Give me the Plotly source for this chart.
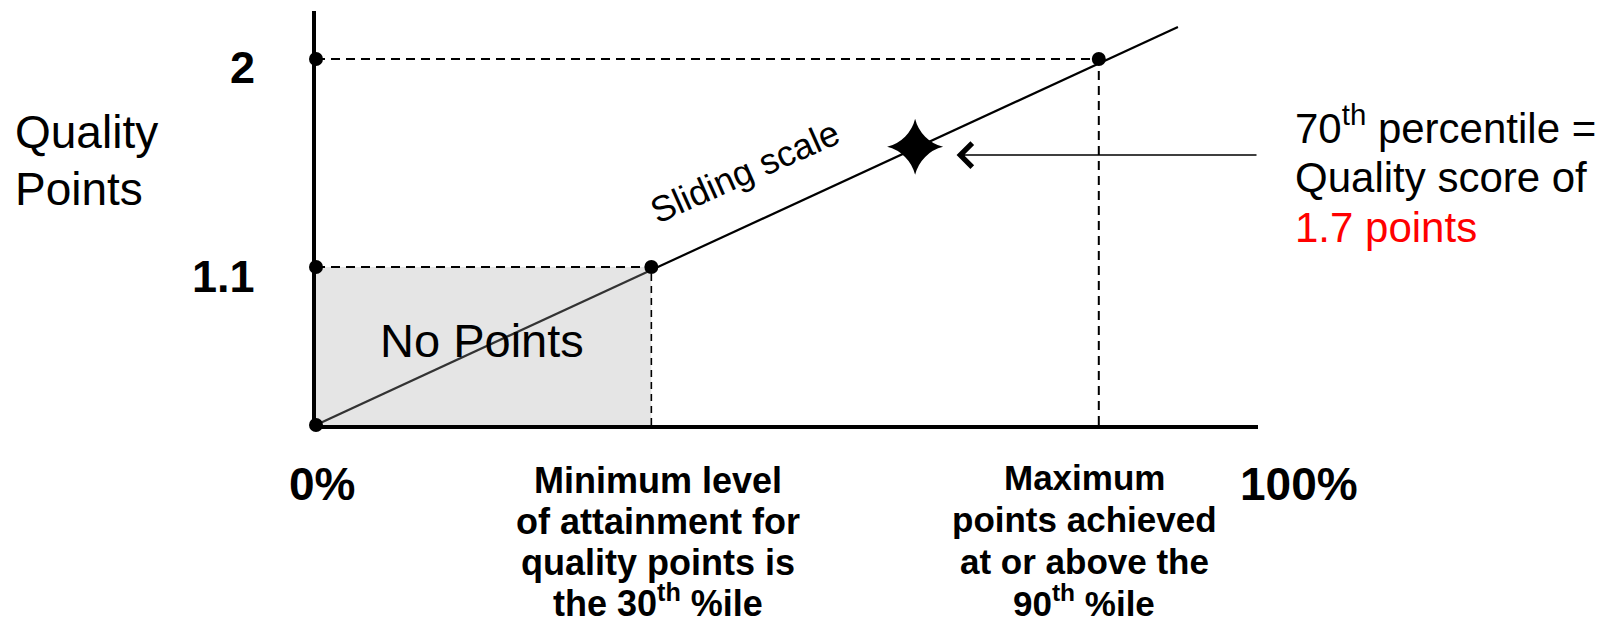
import plotly.graph_objects as go

# ---- data (schematic positions as drawn; x axis = 0%..100% of attainment scale) ----
x_axis_labels = ["0%", "100%"]
y_level_labels = ["2", "1.1"]
y_level_values = [2.0, 0.863]          # where the 2 and 1.1 levels sit on the drawn axis

min_attain_x = 35.6                     # "30th %ile" as drawn
min_attain_y = 0.863                    # 1.1 points as drawn
max_points_x = 83.1                     # "90th %ile" as drawn
max_points_y = 2.0                      # 2 points

line_low_x = [0, 35.6]                  # sliding scale, part inside the no-points box
line_low_y = [0, 0.847]
line_high_x = [35.6, 91.5]              # sliding scale, remainder
line_high_y = [0.847, 2.175]

dot_x = [0, 0, 0, 35.6, 83.1]
dot_y = [0, 0.863, 2.0, 0.863, 2.0]

star_x = [63.6]                         # 70th percentile
star_y = [1.52]

arrow_tip_x = 68.0
arrow_tail_x = 100.0
arrow_y = 1.475

min_text = ["Minimum level", "of attainment for", "quality points is", "the 30<sup>th</sup> %ile"]
max_text = ["Maximum", "points achieved", "at or above the", "90<sup>th</sup> %ile"]
callout_text = ["70<sup>th</sup> percentile =", "Quality score of", "1.7 points"]

# ---- layout geometry (pixels) ----
W, H = 1616, 624
L, R, T, B = 316, 1258, 11, 425
Y_TOP = (B - T) / 183.0
FONT = "Arial, Liberation Sans, sans-serif"


def px_x(px):
    return (px - L) / (R - L)


def px_y(py):
    return (B - py) / (B - T)


annotations = []


def text_line(txt, x_px, baseline_px, size, bold=False, xanchor="center", color="black", angle=0):
    if bold:
        txt = "<b>" + txt + "</b>"
    annotations.append(dict(
        text=txt, xref="paper", yref="paper",
        x=px_x(x_px), y=px_y(baseline_px + 0.212 * size),
        xanchor=xanchor, yanchor="bottom", showarrow=False,
        font=dict(family=FONT, size=size, color=color),
        borderpad=0, borderwidth=0, textangle=angle,
    ))


fig = go.Figure()

# grey "no points" box
fig.add_shape(type="rect", xref="x", yref="y", x0=0, x1=min_attain_x, y0=0, y1=min_attain_y,
              fillcolor="#e5e5e5", line=dict(width=0), layer="below")

dash = dict(color="black", width=2, dash="9px,6px")
fig.add_trace(go.Scatter(x=[0, max_points_x], y=[max_points_y, max_points_y], mode="lines", line=dash))
fig.add_trace(go.Scatter(x=[max_points_x, max_points_x], y=[0, max_points_y], mode="lines", line=dash))
fig.add_trace(go.Scatter(x=[0, min_attain_x], y=[min_attain_y, min_attain_y], mode="lines", line=dash))
fig.add_trace(go.Scatter(x=[min_attain_x, min_attain_x], y=[0, min_attain_y], mode="lines",
                         line=dict(color="black", width=1.6, dash="7px,5px")))

# sliding scale line
fig.add_trace(go.Scatter(x=line_low_x, y=line_low_y, mode="lines", line=dict(color="#333333", width=2.2)))
fig.add_trace(go.Scatter(x=line_high_x, y=line_high_y, mode="lines", line=dict(color="black", width=2.2)))

# dots
fig.add_trace(go.Scatter(x=dot_x, y=dot_y, mode="markers", cliponaxis=False,
                         marker=dict(color="black", size=14, line=dict(width=0))))

# star
fig.add_trace(go.Scatter(x=star_x, y=star_y, mode="markers", cliponaxis=False,
                         marker=dict(symbol="star-diamond", color="black", size=40, line=dict(width=0))))

# arrow
annotations.append(dict(x=arrow_tip_x, y=arrow_y, xref="x", yref="y",
                        ax=arrow_tail_x, ay=arrow_y, axref="x", ayref="y",
                        text="", showarrow=True, arrowhead=4, arrowsize=3.3, arrowwidth=1.4,
                        arrowcolor="black", standoff=0))

# texts
text_line("Quality", 15, 148.5, 46, xanchor="left")
text_line("Points", 15, 205, 46, xanchor="left")
text_line(y_level_labels[0], 255, 83.5, 45, bold=True, xanchor="right")
text_line(y_level_labels[1], 255, 292, 45, bold=True, xanchor="right")
text_line(x_axis_labels[0], 322, 500, 46, bold=True)
text_line(x_axis_labels[1], 1299, 500, 46, bold=True)
text_line("No Points", 482, 357, 47)

for i, t in enumerate(min_text):
    text_line(t, 658, 493 + 41 * i, 36, bold=True)
for i, t in enumerate(max_text):
    text_line(t, 1084, 490 + 42 * i, 35, bold=True)

cols = ["black", "black", "#ff0000"]
for i, t in enumerate(callout_text):
    text_line(t, 1295, 143 + 49.5 * i, 42, xanchor="left", color=cols[i])

annotations.append(dict(text="Sliding scale", xref="paper", yref="paper",
                        x=px_x(745), y=px_y(172), xanchor="center", yanchor="middle",
                        showarrow=False, textangle=-24, borderpad=0,
                        font=dict(family=FONT, size=36, color="black")))

axis_common = dict(showgrid=False, zeroline=False, showticklabels=False, ticks="",
                   showline=True, linecolor="black", linewidth=4, fixedrange=True)
fig.update_xaxes(range=[0, 100], **axis_common)
fig.update_yaxes(range=[0, Y_TOP], **axis_common)

fig.update_layout(
    width=W, height=H,
    margin=dict(l=L, r=W - R, t=T, b=H - B, pad=0),
    paper_bgcolor="white", plot_bgcolor="white",
    showlegend=False, hovermode=False,
    annotations=annotations,
)

fig.write_html("out.html", config={"displayModeBar": False},
               post_script="document.body.style.margin='0';")
